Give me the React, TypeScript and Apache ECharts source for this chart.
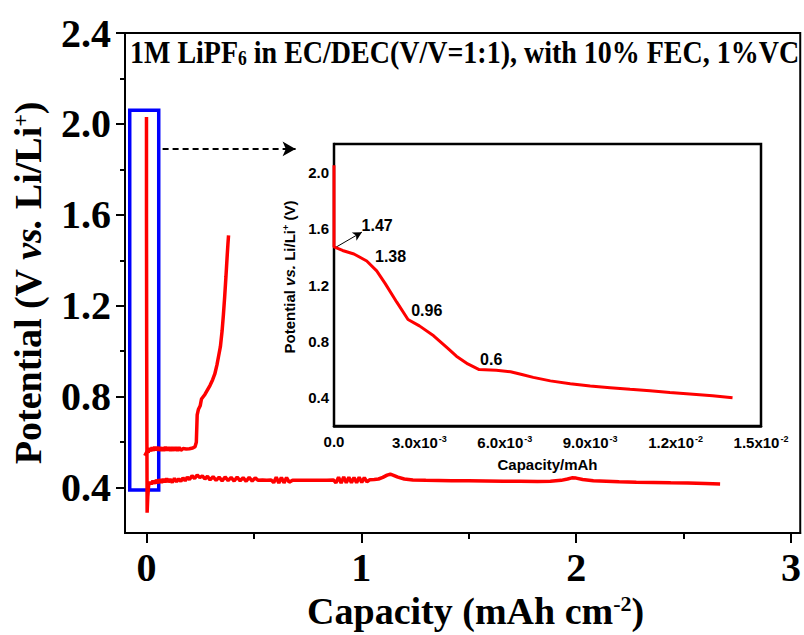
import React, { useEffect, useRef } from 'react';
import * as echarts from 'echarts';

// ---------------- data ----------------
// first discharge (lithiation) curve, main plot: [capacity mAh cm^-2, potential V]
const dischargeCurve: number[][] = [
  [0.0, 2.03], [0.0, 1.6], [0.001, 1.0], [0.002, 0.6], [0.003, 0.29], [0.006, 0.36], [0.01, 0.41],
  [0.016, 0.425], [0.022, 0.415], [0.03, 0.43], [0.038, 0.418], [0.046, 0.434], [0.054, 0.42],
  [0.062, 0.436], [0.07, 0.422], [0.078, 0.438], [0.086, 0.424], [0.094, 0.44], [0.102, 0.425],
  [0.11, 0.437], [0.12, 0.423], [0.13, 0.441], [0.14, 0.426], [0.15, 0.439], [0.16, 0.428],
  [0.17, 0.443], [0.18, 0.43], [0.19, 0.446], [0.2, 0.436], [0.212, 0.452], [0.224, 0.44],
  [0.236, 0.456], [0.248, 0.444], [0.26, 0.452], [0.272, 0.438], [0.284, 0.45], [0.296, 0.434],
  [0.31, 0.448], [0.324, 0.432], [0.338, 0.446], [0.352, 0.43], [0.366, 0.447], [0.38, 0.431],
  [0.394, 0.445], [0.408, 0.429], [0.422, 0.446], [0.436, 0.43], [0.45, 0.444], [0.464, 0.428],
  [0.478, 0.445], [0.492, 0.429], [0.506, 0.443], [0.52, 0.432], [0.54, 0.434], [0.56, 0.433],
  [0.58, 0.434], [0.592, 0.422], [0.604, 0.446], [0.616, 0.42], [0.628, 0.445], [0.64, 0.421],
  [0.652, 0.444], [0.664, 0.424], [0.68, 0.433], [0.72, 0.432], [0.76, 0.433], [0.8, 0.432],
  [0.84, 0.433], [0.87, 0.434], [0.882, 0.421], [0.894, 0.446], [0.906, 0.42], [0.918, 0.447],
  [0.93, 0.421], [0.942, 0.446], [0.954, 0.422], [0.966, 0.445], [0.978, 0.421], [0.99, 0.446],
  [1.002, 0.423], [1.014, 0.444], [1.026, 0.425], [1.04, 0.435], [1.06, 0.436], [1.08, 0.438],
  [1.1, 0.445], [1.12, 0.455], [1.135, 0.459], [1.15, 0.454], [1.17, 0.446], [1.2, 0.438],
  [1.24, 0.434], [1.3, 0.432], [1.36, 0.431], [1.42, 0.43], [1.5, 0.43], [1.58, 0.429],
  [1.66, 0.428], [1.74, 0.428], [1.82, 0.427], [1.88, 0.428], [1.93, 0.432], [1.96, 0.438],
  [1.98, 0.443], [2.0, 0.442], [2.03, 0.436], [2.08, 0.43], [2.14, 0.428], [2.2, 0.426],
  [2.28, 0.424], [2.36, 0.423], [2.44, 0.421], [2.52, 0.42], [2.6, 0.418], [2.67, 0.416],
];

// first charge (delithiation) curve, main plot
const chargeCurve: number[][] = [
  [-0.008, 0.54], [0.003, 0.56], [0.008, 0.555], [0.014, 0.575], [0.02, 0.56], [0.026, 0.578],
  [0.032, 0.562], [0.038, 0.58], [0.044, 0.564], [0.05, 0.579], [0.056, 0.563], [0.062, 0.578],
  [0.068, 0.561], [0.074, 0.577], [0.08, 0.562], [0.088, 0.579], [0.096, 0.563], [0.104, 0.578],
  [0.112, 0.562], [0.12, 0.577], [0.128, 0.563], [0.136, 0.578], [0.144, 0.562], [0.152, 0.577],
  [0.16, 0.564], [0.17, 0.572], [0.185, 0.57], [0.2, 0.571], [0.215, 0.574], [0.226, 0.58],
  [0.232, 0.6], [0.236, 0.72], [0.242, 0.745], [0.25, 0.76], [0.256, 0.79], [0.264, 0.8],
  [0.272, 0.81], [0.284, 0.83], [0.296, 0.85], [0.308, 0.875], [0.318, 0.9], [0.328, 0.94],
  [0.336, 0.98], [0.344, 1.02], [0.352, 1.09], [0.358, 1.16], [0.364, 1.24], [0.37, 1.33],
  [0.375, 1.41], [0.379, 1.47], [0.382, 1.51],
];

// zoomed initial part of the discharge (inset): [capacity mAh, potential V]
const insetCurve: number[][] = [
  [0, 2.05], [0, 1.8], [0, 1.6], [0, 1.47], [0.0003, 1.445], [0.0007, 1.42], [0.00115, 1.37],
  [0.0015, 1.3], [0.0018, 1.21], [0.0022, 1.08], [0.0026, 0.955], [0.003, 0.91], [0.0035, 0.84],
  [0.004, 0.75], [0.0043, 0.695], [0.0047, 0.64], [0.0051, 0.6], [0.0057, 0.596], [0.0062, 0.585],
  [0.0066, 0.565], [0.007, 0.545], [0.0076, 0.52], [0.0083, 0.5], [0.009, 0.484], [0.0097, 0.472],
  [0.0104, 0.46], [0.0111, 0.45], [0.0118, 0.437], [0.0125, 0.427], [0.0133, 0.415], [0.014, 0.4],
];

// tick values
const mainXTicks = [0, 1, 2, 3];
const mainXMinor = [0.5, 1.5, 2.5];
const mainYTicks = [0.4, 0.8, 1.2, 1.6, 2.0, 2.4];
const mainYMinor = [0.6, 1.0, 1.4, 1.8, 2.2];
const insetYTicks = [0.4, 0.8, 1.2, 1.6, 2.0];

// inset annotations (text and data-space anchor)
const insetNotes = ['1.47', '1.38', '0.96', '0.6'];
const insetNoteX = [0.00097, 0.00144, 0.00271, 0.00513];
const insetNoteY = [1.62, 1.405, 1.017, 0.672];
const noteArrowFrom = [0, 1.46];
const noteArrowTo = [0.00098, 1.575];

// highlighted region in the main plot and the dashed pointer to the inset
const zoomBoxX = [-0.078, 0.057];
const zoomBoxY = [0.39, 2.06];
const pointerX = [0.075, 0.694];
const pointerY = 1.89;

const titleText = '1M LiPF';

export default function App() {
  const ref = useRef<HTMLDivElement>(null);
  useEffect(() => {
    const chart = echarts.init(ref.current!, null, { renderer: 'svg' });
    const serif = '"Liberation Serif", "Times New Roman", serif';
    const sans = '"Liberation Sans", Arial, sans-serif';
    const black = '#000';
    const red = '#ff0000';

    const option: any = {
      animation: false,
      backgroundColor: '#fff',
      grid: [
        { left: 125, top: 33, width: 677, height: 516, show: true, borderColor: black, borderWidth: 2, backgroundColor: 'transparent' },
        { left: 334, top: 144, width: 427, height: 282, show: true, borderColor: black, borderWidth: 2.5, backgroundColor: '#fff', z: 5 },
      ],
      xAxis: [
        {
          type: 'value', gridIndex: 0, position: 'bottom', min: -0.1, max: 3.043,
          axisLine: { show: true, onZero: false, lineStyle: { color: black, width: 2 } },
          axisTick: { show: true, customValues: mainXTicks, length: 10, lineStyle: { color: black, width: 2 } },
          axisLabel: {
            customValues: mainXTicks, formatter: (v: number) => String(v), fontSize: 40, fontWeight: 'bold',
            fontFamily: serif, color: black, margin: 14,
          },
          splitLine: { show: false },
          name: '{n|Capacity (mAh cm}{s|-2}{n|)}',
          nameLocation: 'middle', nameGap: 42,
          nameTextStyle: {
            padding: [0, 0, 0, 26],
            rich: {
              n: { fontSize: 38, fontWeight: 'bold', fontFamily: serif, color: black },
              s: { fontSize: 22, fontWeight: 'bold', fontFamily: serif, color: black, verticalAlign: 'top', padding: [0, 0, 14, 0] },
            },
          },
        },
        {
          type: 'value', gridIndex: 0, position: 'bottom', offset: 0, min: -0.1, max: 3.043,
          axisLine: { show: false, onZero: false },
          axisTick: { show: true, customValues: mainXMinor, length: 6, lineStyle: { color: black, width: 2 } },
          axisLabel: { show: false },
          splitLine: { show: false },
        },
        {
          type: 'value', gridIndex: 1, min: 0, max: 0.015, interval: 0.003,
          axisLine: { show: true, onZero: false, lineStyle: { color: black, width: 2.5 } },
          axisTick: { show: true, inside: true, length: 5, lineStyle: { color: black, width: 2 } },
          minorTick: { show: true, splitNumber: 2, length: 3, lineStyle: { color: black, width: 2 } },
          axisLabel: {
            margin: 8,
            formatter: (v: number) => {
              if (v === 0) return '{b|0.0}';
              const e = Math.floor(Math.log10(v) + 1e-9);
              const m = v / Math.pow(10, e);
              return '{b|' + m.toFixed(1) + 'x10}{s|' + e + '}';
            },
            rich: {
              b: { fontSize: 15, fontWeight: 'bold', fontFamily: sans, color: black },
              s: { fontSize: 9, fontWeight: 'bold', fontFamily: sans, color: black, verticalAlign: 'top', padding: [0, 0, 8, 1] },
            },
          },
          splitLine: { show: false },
          name: 'Capacity/mAh', nameLocation: 'middle', nameGap: 31,
          nameTextStyle: { fontSize: 15, fontWeight: 'bold', fontFamily: sans, color: black },
        },
      ],
      yAxis: [
        {
          type: 'value', gridIndex: 0, position: 'left', min: 0.2, max: 2.4,
          axisLine: { show: true, onZero: false, lineStyle: { color: black, width: 2 } },
          axisTick: { show: true, customValues: mainYTicks, length: 9, lineStyle: { color: black, width: 2 } },
          axisLabel: {
            customValues: mainYTicks, formatter: (v: number) => v.toFixed(1), fontSize: 40, fontWeight: 'bold',
            fontFamily: serif, color: black, margin: 14,
          },
          splitLine: { show: false },
          name: '{n|Potential (V }{i|vs.}{n| Li/Li}{s|+}{n|)}',
          nameLocation: 'middle', nameGap: 78,
          nameTextStyle: {
            rich: {
              n: { fontSize: 38, fontWeight: 'bold', fontFamily: serif, color: black },
              i: { fontSize: 38, fontWeight: 'bold', fontStyle: 'italic', fontFamily: serif, color: black },
              s: { fontSize: 22, fontWeight: 'bold', fontFamily: serif, color: black, verticalAlign: 'top', padding: [0, 0, 14, 0] },
            },
          },
        },
        {
          type: 'value', gridIndex: 0, position: 'left', offset: 0, min: 0.2, max: 2.4,
          axisLine: { show: false, onZero: false },
          axisTick: { show: true, customValues: mainYMinor, length: 5, lineStyle: { color: black, width: 2 } },
          axisLabel: { show: false },
          splitLine: { show: false },
        },
        {
          type: 'value', gridIndex: 1, min: 0.2, max: 2.2, interval: 0.2,
          axisLine: { show: true, onZero: false, lineStyle: { color: black, width: 2.5 } },
          axisTick: { show: true, inside: true, length: 4, lineStyle: { color: black, width: 2 } },
          axisLabel: {
            customValues: insetYTicks, formatter: (v: number) => v.toFixed(1), fontSize: 15, fontWeight: 'bold',
            fontFamily: sans, color: black, margin: 5,
          },
          splitLine: { show: false },
          name: '{n|Potential }{i|vs.}{n| Li/Li}{s|+}{n| (V)}',
          nameLocation: 'middle', nameGap: 37,
          nameTextStyle: {
            padding: [0, 0, 0, 16],
            rich: {
              n: { fontSize: 15, fontWeight: 'bold', fontFamily: sans, color: black },
              i: { fontSize: 15, fontWeight: 'bold', fontStyle: 'italic', fontFamily: sans, color: black },
              s: { fontSize: 9, fontWeight: 'bold', fontFamily: sans, color: black, verticalAlign: 'top', padding: [0, 0, 7, 0] },
            },
          },
        },
      ],
      series: [
        {
          type: 'line', name: 'discharge', xAxisIndex: 0, yAxisIndex: 0, data: dischargeCurve,
          showSymbol: false, symbol: 'none', lineStyle: { color: red, width: 3.5 }, z: 3,
          markArea: {
            silent: true,
            itemStyle: { color: 'rgba(0,0,0,0)', borderColor: '#0000ff', borderWidth: 3.5 },
            label: { show: false },
            data: [[{ coord: [zoomBoxX[0], zoomBoxY[1]] }, { coord: [zoomBoxX[1], zoomBoxY[0]] }]],
          },
        },
        {
          type: 'line', name: 'charge', xAxisIndex: 0, yAxisIndex: 0, data: chargeCurve,
          showSymbol: false, symbol: 'none', lineStyle: { color: red, width: 3.5 }, z: 3,
          markLine: {
            silent: true,
            symbol: ['none', 'arrow'],
            symbolSize: [11, 13],
            label: { show: false },
            lineStyle: { color: black, width: 2, type: [6, 4] },
            data: [[{ coord: [pointerX[0], pointerY] }, { coord: [pointerX[1], pointerY] }]],
          },
        },
        {
          type: 'line', name: 'inset', xAxisIndex: 2, yAxisIndex: 2, data: insetCurve,
          showSymbol: false, symbol: 'none', lineStyle: { color: red, width: 3 }, z: 6,
          markLine: {
            silent: true,
            symbol: ['none', 'arrow'],
            symbolSize: [7, 9],
            label: { show: false },
            lineStyle: { color: black, width: 1, type: 'solid' },
            data: [[{ coord: noteArrowFrom }, { coord: noteArrowTo }]],
          },
          markPoint: {
            silent: true,
            symbol: 'circle',
            symbolSize: 0,
            data: insetNotes.map((t, i) => ({
              name: t,
              coord: [insetNoteX[i], insetNoteY[i]],
              label: {
                show: true, formatter: t, position: [0, 0], align: 'left', verticalAlign: 'middle',
                fontSize: 16, fontWeight: 'bold', fontFamily: sans, color: black,
              },
            })),
          },
        },
      ],
      graphic: [
        {
          type: 'text', left: 130, top: 36, scaleX: 0.875, z: 10,
          style: {
            text: '{t|' + titleText + '}{u|6}{t| in EC/DEC(V/V=1:1), with 10% FEC, 1%VC}',
            rich: {
              t: { fontSize: 32, fontWeight: 'bold', fontFamily: serif, fill: black },
              u: { fontSize: 20, fontWeight: 'bold', fontFamily: serif, fill: black, verticalAlign: 'bottom', padding: [8, 0, 0, 0] },
            },
          },
        },
      ],
    };
    chart.setOption(option);
    return () => chart.dispose();
  }, []);
  return <div ref={ref} style={{ position: 'absolute', left: 0, top: 0, width: 804, height: 635 }} />;
}
